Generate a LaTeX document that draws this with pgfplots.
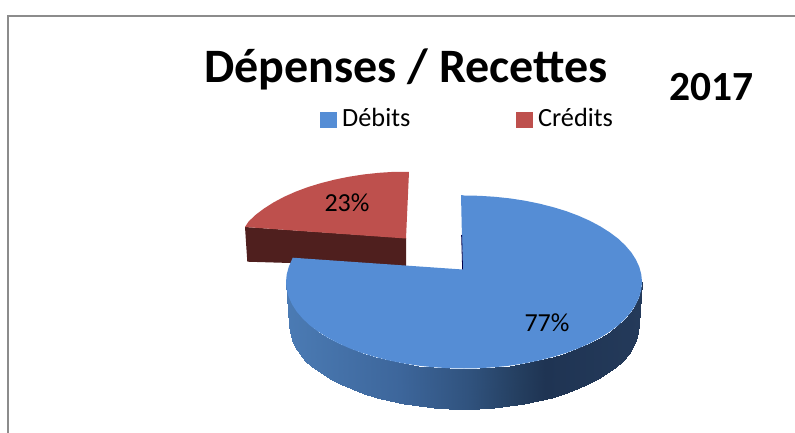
\documentclass[border=0pt]{standalone}
\usepackage{pgfplots}
\usepackage{pgfplotstable}
\usepackage{fontspec}
\setmainfont{Carlito}
\pgfplotsset{compat=1.18}
\definecolor{blueTop}{RGB}{85,141,213}
\definecolor{redTop}{RGB}{190,80,77}
\definecolor{redSide}{RGB}{79,31,30}
\definecolor{frameGray}{RGB}{140,140,140}
\pgfplotstableread{
x y
642 282
641.3 289.5
639.3 297
635.9 304.4
631.3 311.6
625.3 318.6
618.2 325.3
609.8 331.6
600.4 337.6
589.9 343.2
578.4 348.3
566.1 352.9
553 356.9
539.2 360.4
524.9 363.3
510.1 365.6
494.9 367.2
479.5 368.2
464 368.5
448.5 368.2
433.1 367.2
417.9 365.6
403.1 363.3
388.8 360.4
375 356.9
361.9 352.9
349.6 348.3
338.1 343.2
327.6 337.6
318.2 331.6
309.8 325.3
302.7 318.6
296.7 311.6
292.1 304.4
288.7 297
286.7 289.5
286 282
639 325
638.3 332.3
636.3 339.6
633 346.7
628.5 353.7
622.6 360.5
615.6 367
607.4 373.2
598 379
587.7 384.4
576.5 389.3
564.4 393.8
551.5 397.7
538 401.1
523.9 403.9
509.3 406.1
494.4 407.7
479.3 408.7
464 409
448.7 408.7
433.6 407.7
418.7 406.1
404.1 403.9
390 401.1
376.5 397.7
363.6 393.8
351.5 389.3
340.3 384.4
330 379
320.6 373.2
312.4 367
305.4 360.5
299.5 353.7
295 346.7
291.7 339.6
289.7 332.3
289 325
}\sideverts
\begin{document}
\begin{tikzpicture}
\begin{axis}[
  hide axis, scale only axis, width=795pt, height=433pt,
  xmin=0, xmax=795, ymin=0, ymax=433, y dir=reverse,
  clip=true,
  colormap={sideshade}{rgb255(286pt)=(75,123,180) rgb255(400pt)=(61,102,155) rgb255(470pt)=(48,82,125) rgb255(520pt)=(36,62,95) rgb255(545pt)=(31,52,83) rgb255(642pt)=(36,58,90)},
  point meta min=286, point meta max=642,
  legend columns=2,
  legend style={draw=none, fill=none, at={(axis cs:320,118.5)}, anchor=west, inner sep=0pt, outer sep=0pt,
    font=\fontsize{26.3}{26.3}\selectfont, /tikz/every even column/.style={column sep=105.5pt},
    nodes={inner sep=0pt, anchor=base west}},
  legend cell align=left,
  legend image code/.code={\fill[#1] (0pt,-0.5pt) rectangle (16pt,14.5pt); \path[draw=none,fill=none] (0pt,0pt) -- (22pt,0pt);},
]
\addlegendimage{blueTop}
\addlegendimage{redTop}
% picture extent
\addplot[forget plot, draw=none] coordinates {(0,0) (795,0) (795,433) (0,433)};
% frame
\addplot[forget plot, draw=frameGray, line width=2pt] coordinates {(8,433) (8,16) (795,16)};
% Credits wedge
\addplot[forget plot, fill=redSide, draw=none] coordinates {(245,227) (406,238) (406,266.5) (247.3,261.7)};
\addplot[forget plot, fill=redTop, draw=none] coordinates {
(409,172) (394.5,171.8) (379.1,172.8) (363.9,174.4) (349.1,176.7) (334.8,179.6) (321,183.1)
(307.9,187.1) (295.6,191.7) (284.1,196.8) (273.6,202.4) (264.2,208.4) (255.8,214.7) (248.7,221.4)
(245,227) (406,238.5)};
% Debits side
\addplot[forget plot, patch, patch type=rectangle, shader=interp, point meta=x,
  table/row sep=\\,
  patch table={0 1 38 37\\1 2 39 38\\2 3 40 39\\3 4 41 40\\4 5 42 41\\5 6 43 42\\6 7 44 43\\7 8 45 44\\8 9 46 45\\9 10 47 46\\10 11 48 47\\11 12 49 48\\12 13 50 49\\13 14 51 50\\14 15 52 51\\15 16 53 52\\16 17 54 53\\17 18 55 54\\18 19 56 55\\19 20 57 56\\20 21 58 57\\21 22 59 58\\22 23 60 59\\23 24 61 60\\24 25 62 61\\25 26 63 62\\26 27 64 63\\27 28 65 64\\28 29 66 65\\29 30 67 66\\30 31 68 67\\31 32 69 68\\32 33 70 69\\33 34 71 70\\34 35 72 71\\35 36 73 72\\}
  ] table[x=x, y=y] {\sideverts};
% Debits top
\addplot[forget plot, fill=blueTop, draw=none] coordinates {
(461,195) (464,195.5) (479.5,195.8) (494.9,196.8) (510.1,198.4) (524.9,200.7) (539.2,203.6) (553,207.1)
(566.1,211.1) (578.4,215.7) (589.9,220.8) (600.4,226.4) (609.8,232.4) (618.2,238.7) (625.3,245.4)
(631.3,252.4) (635.9,259.6) (639.3,267) (641.3,274.5) (642,282)
(641.3,289.5) (639.3,297) (635.9,304.4) (631.3,311.6) (625.3,318.6) (618.2,325.3) (609.8,331.6)
(600.4,337.6) (589.9,343.2) (578.4,348.3) (566.1,352.9) (553,356.9) (539.2,360.4) (524.9,363.3)
(510.1,365.6) (494.9,367.2) (479.5,368.2) (464,368.5)
(448.5,368.2) (433.1,367.2) (417.9,365.6) (403.1,363.3) (388.8,360.4) (375,356.9) (361.9,352.9)
(349.6,348.3) (338.1,343.2) (327.6,337.6) (318.2,331.6) (309.8,325.3) (302.7,318.6) (296.7,311.6)
(292.1,304.4) (288.7,297) (286.7,289.5) (286,282)
(286.7,274.5) (288.7,267) (292.7,257.7) (462.7,269.5)};
\addplot[forget plot, draw=black!70!blue, line width=0.8pt] coordinates {(461.6,235) (462.6,269.3)};
\legend{Débits, Crédits}
\node[anchor=base, font=\bfseries\fontsize{48}{48}\selectfont] at (axis cs:406,83) {Dépenses / Recettes};
\node[anchor=base, font=\bfseries\fontsize{41.5}{41.5}\selectfont] at (axis cs:711.5,101) {2017};
\node[font=\fontsize{26}{26}\selectfont] at (axis cs:347,203) {23\%};
\node[font=\fontsize{26}{26}\selectfont] at (axis cs:547,323) {77\%};
\end{axis}
\end{tikzpicture}
\end{document}
